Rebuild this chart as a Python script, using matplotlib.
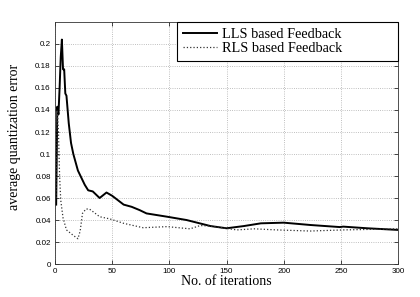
import numpy as np
import matplotlib.pyplot as plt
from matplotlib.ticker import FuncFormatter

# LLS based feedback (solid)
lls_it = [1, 2, 3, 4, 5, 6, 7, 8, 9, 10, 12, 14, 16, 20, 26, 29, 33, 39, 45, 50,
          55, 60, 67, 74, 80, 98, 115, 136, 150, 165, 180, 200, 223, 249, 252, 273, 300]
lls_err = [0.054, 0.143, 0.136, 0.160, 0.188, 0.204, 0.177, 0.177, 0.155, 0.153, 0.128,
           0.110, 0.100, 0.085, 0.072, 0.067, 0.066, 0.060, 0.065, 0.062, 0.058, 0.054,
           0.052, 0.049, 0.046, 0.043, 0.040, 0.0345, 0.0325, 0.0345, 0.037, 0.0376,
           0.0355, 0.0336, 0.034, 0.0325, 0.031]

# RLS based feedback (dotted)
rls_it = [1, 2, 3, 4, 5, 7, 10, 16, 20, 22, 24, 27, 30, 34, 39, 48, 60, 77, 98, 118,
          127, 136, 159, 174, 194, 223, 252, 276, 300]
rls_err = [0.06, 0.140, 0.120, 0.080, 0.058, 0.042, 0.031, 0.026, 0.023, 0.030, 0.046,
           0.050, 0.050, 0.047, 0.043, 0.041, 0.037, 0.033, 0.034, 0.032, 0.035, 0.0345,
           0.031, 0.032, 0.031, 0.030, 0.031, 0.0315, 0.032]

serif = ['Liberation Serif', 'DejaVu Serif']

fig = plt.figure(figsize=(4.2, 2.97), dpi=100)
ax = fig.add_axes([0.131, 0.111, 0.817, 0.815])

ax.plot(lls_it, lls_err, color='black', lw=1.4, label='LLS based Feedback')
ax.plot(rls_it, rls_err, color='#333333', lw=0.9, ls=':', label='RLS based Feedback')

ax.set_xlim(0, 300)
ax.set_ylim(0, 0.22)
ax.set_xticks(np.arange(0, 301, 50))
ax.set_yticks(np.arange(0, 0.201, 0.02))
ax.yaxis.set_major_formatter(FuncFormatter(lambda v, p: '%g' % round(v, 3)))
ax.tick_params(direction='in', top=True, right=True, labelsize=5.8, length=3,
               width=0.5, pad=3)
for lab in ax.get_xticklabels() + ax.get_yticklabels():
    lab.set_family(['Liberation Sans', 'DejaVu Sans'])
ax.grid(True, ls=':', color='#aaaaaa', lw=0.6)
for s in ax.spines.values():
    s.set_linewidth(0.6)
    s.set_color('#333333')

ax.set_xlabel('No. of iterations', fontsize=10, family=serif, labelpad=0)
ax.set_ylabel('average quantization error', fontsize=10, family=serif)
ax.yaxis.set_label_coords(-0.098, 0.527)

leg = ax.legend(loc='upper left', bbox_to_anchor=(0.356, 0, 0.644, 1.0), mode='expand',
                borderaxespad=0, fancybox=False, framealpha=1,
                edgecolor='black', prop={'family': serif, 'size': 10.3},
                handlelength=2.4, borderpad=0.4, labelspacing=0.1, handletextpad=0.3)
leg.get_frame().set_linewidth(0.8)

plt.savefig('out.png', dpi=100)
